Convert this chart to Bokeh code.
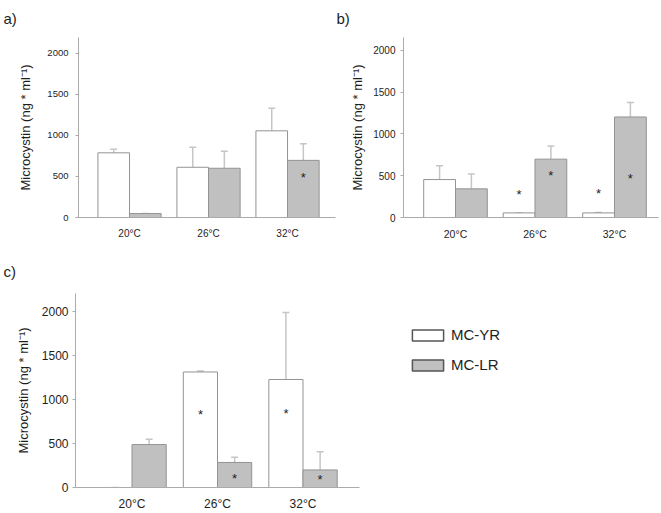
from bokeh.plotting import figure
from bokeh.models import (ColumnDataSource, Range1d, FixedTicker, Whisker, TeeHead,
                          Legend, LegendItem)
from bokeh.transform import dodge
from bokeh.layouts import column, row
from bokeh.embed import file_html
from bokeh.resources import INLINE
from bokeh.core.properties import value

# ---------------- data ----------------
temps = ["20°C", "26°C", "32°C"]
series = ["MC-YR", "MC-LR"]
y_ticks = [0, 500, 1000, 1500, 2000]
y_label = "Microcystin (ng * ml⁻¹)"

a_yr = [788, 612, 1056]
a_yr_err = [44, 244, 276]
a_lr = [48, 600, 696]
a_lr_err = [0, 208, 204]
a_yr_star = [None, None, None]
a_lr_star = [None, None, 512]

b_yr = [454, 55, 55]
b_yr_err = [165, 0, 4]
b_lr = [343, 698, 1203]
b_lr_err = [178, 158, 174]
b_yr_star = [None, 304, 316]
b_lr_star = [None, 521, 493]

c_yr = [0, 1310, 1225]
c_yr_err = [0, 11, 760]
c_lr = [487, 284, 199]
c_lr_err = [59, 59, 207]
c_yr_star = [None, 856, 860]
c_lr_star = [None, 122, 111]

# ---------------- style ----------------
FONT = "Liberation Sans"
WHITE = "#ffffff"
GRAY = "#c0c0c0"
BAR_LINE = "#939393"
KEY_LINE = "#555555"
AXIS = "#ababab"
ERR = "#c6c6c6"
TEXT = "#1e1e1e"
OFF = 0.2
BW = 0.4


def panel(tag, yr, yr_err, lr, lr_err, yr_star, lr_star, width, height, borders,
          x_start, x_end, y_end, ytick_fs, xtick_fs, ytick_standoff, ylab_standoff,
          xtick_standoff, tag_offset, tag_standoff):
    left, right, top, bottom = borders
    p = figure(width=width, height=height, output_backend="svg", toolbar_location=None,
               x_range=Range1d(x_start, x_end), y_range=Range1d(0, y_end),
               min_border_left=left, min_border_right=right,
               min_border_top=top, min_border_bottom=bottom, title=tag)
    p.outline_line_color = None
    p.grid.visible = False

    t = p.title
    t.align = "left"
    t.offset = tag_offset
    t.vertical_align = "top"
    t.standoff = tag_standoff
    t.text_font = FONT
    t.text_font_size = "15px"
    t.text_font_style = "normal"
    t.text_color = TEXT

    idx = list(range(len(temps)))
    src = ColumnDataSource(dict(
        x=idx, yr=yr, lr=lr,
        yr_up=[v + e for v, e in zip(yr, yr_err)],
        lr_up=[v + e for v, e in zip(lr, lr_err)],
    ))
    p.vbar(x=dodge("x", -OFF), top="yr", bottom=0, width=BW, source=src,
           fill_color=WHITE, line_color=BAR_LINE, line_width=1)
    p.vbar(x=dodge("x", OFF), top="lr", bottom=0, width=BW, source=src,
           fill_color=GRAY, line_color=BAR_LINE, line_width=1)

    for off, lo, up in ((-OFF, "yr", "yr_up"), (OFF, "lr", "lr_up")):
        p.add_layout(Whisker(source=src, base=dodge("x", off), lower=lo, upper=up,
                             dimension="height", line_color=ERR, line_width=1.5,
                             lower_head=None,
                             upper_head=TeeHead(size=7, line_color=ERR, line_width=1.5)))

    for off, stars in ((-OFF, yr_star), (OFF, lr_star)):
        sx = [i for i, s in enumerate(stars) if s is not None]
        sy = [s for s in stars if s is not None]
        if sx:
            ssrc = ColumnDataSource(dict(x=sx, y=sy))
            p.text(x=dodge("x", off), y="y", text=value("*"), source=ssrc,
                   text_font=value(FONT), text_font_size="13px", text_color=TEXT,
                   text_align="center", text_baseline="alphabetic", y_offset=2)

    xa = p.xaxis[0]
    xa.ticker = FixedTicker(ticks=idx)
    xa.major_label_overrides = {i: t for i, t in enumerate(temps)}
    xa.major_tick_line_color = None
    xa.minor_tick_line_color = None
    xa.axis_line_color = AXIS
    xa.major_label_text_font = FONT
    xa.major_label_text_font_size = xtick_fs
    xa.major_label_text_color = TEXT
    xa.major_label_standoff = xtick_standoff

    ya = p.yaxis[0]
    ya.ticker = FixedTicker(ticks=y_ticks)
    ya.minor_tick_line_color = None
    ya.major_tick_out = 3
    ya.major_tick_in = 0
    ya.major_tick_line_color = AXIS
    ya.axis_line_color = AXIS
    ya.major_label_text_font = FONT
    ya.major_label_text_font_size = ytick_fs
    ya.major_label_text_color = TEXT
    ya.major_label_standoff = ytick_standoff
    ya.axis_label = y_label
    ya.axis_label_text_font = FONT
    ya.axis_label_text_font_style = "normal"
    ya.axis_label_text_font_size = "13px"
    ya.axis_label_text_color = TEXT
    ya.axis_label_standoff = ylab_standoff
    return p


pa = panel("a)", a_yr, a_yr_err, a_lr, a_lr_err, a_yr_star, a_lr_star,
           width=336, height=250, borders=(78, 1, 35, 33),
           x_start=-0.646, x_end=-0.646 + 257 / 79, y_end=2193,
           ytick_fs="9.5px", xtick_fs="10px", ytick_standoff=7, ylab_standoff=11,
           xtick_standoff=4, tag_offset=-75, tag_standoff=18)

pb = panel("b)", b_yr, b_yr_err, b_lr, b_lr_err, b_yr_star, b_lr_star,
           width=325, height=250, borders=(67, 3, 35, 33),
           x_start=-0.654, x_end=-0.654 + 255 / 79.5, y_end=2154,
           ytick_fs="10px", xtick_fs="10.5px", ytick_standoff=5, ylab_standoff=5,
           xtick_standoff=4, tag_offset=-67, tag_standoff=18)

pc = panel("c)", c_yr, c_yr_err, c_lr, c_lr_err, c_yr_star, c_lr_star,
           width=370, height=263, borders=(75, 11, 41, 26),
           x_start=-0.661, x_end=-0.661 + 284 / 85.5, y_end=2200,
           ytick_fs="12px", xtick_fs="12px", ytick_standoff=4, ylab_standoff=8,
           xtick_standoff=3, tag_offset=-72, tag_standoff=24)

# legend panel: key renderers hold no drawable value (NaN placeholders)
pd = figure(width=291, height=263, output_backend="svg", toolbar_location=None,
            x_axis_type=None, y_axis_type=None, min_border=0,
            x_range=Range1d(0, 1), y_range=Range1d(0, 1))
pd.outline_line_color = None
nan = float("nan")
k_yr = pd.vbar(x=[nan], top=[nan], width=BW, fill_color=WHITE,
               line_color=KEY_LINE, line_width=1.5)
k_lr = pd.vbar(x=[nan], top=[nan], width=BW, fill_color=GRAY,
               line_color=KEY_LINE, line_width=1.5)
legend = Legend(items=[LegendItem(label=series[0], renderers=[k_yr]),
                       LegendItem(label=series[1], renderers=[k_lr])],
                location=(38, 114), padding=0, margin=0, spacing=13,
                glyph_width=39, glyph_height=14, label_height=14, label_standoff=4,
                label_text_font=FONT, label_text_font_size="15px", label_text_color=TEXT,
                border_line_color=None, background_fill_alpha=0)
pd.add_layout(legend)

layout = column(row(pa, pb), row(pc, pd))
open("out.html", "w").write(file_html(layout, INLINE))
